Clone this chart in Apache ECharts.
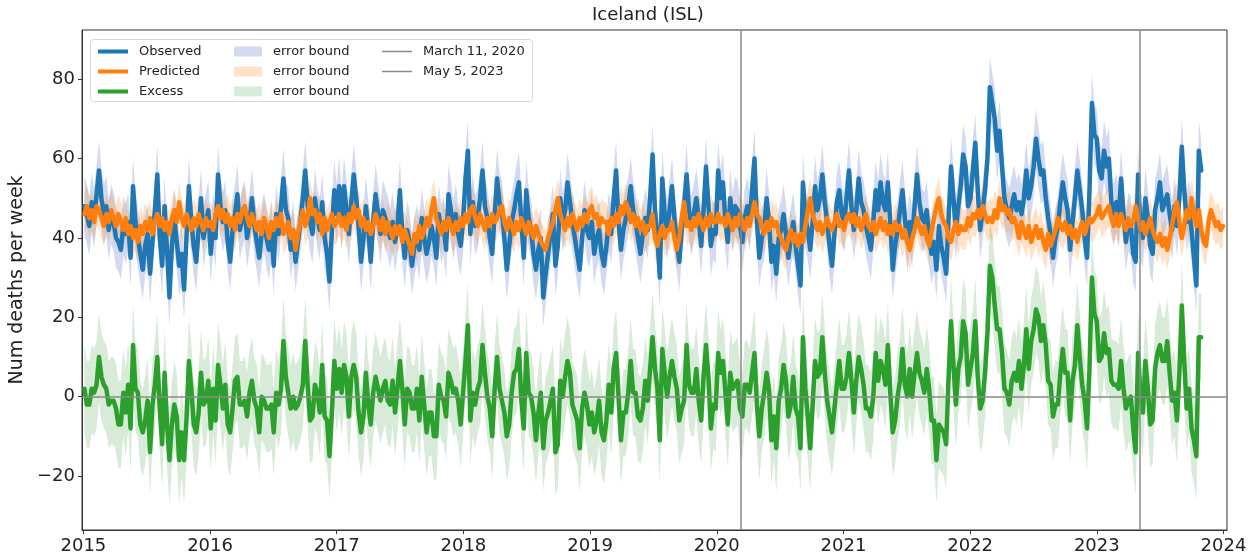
<!DOCTYPE html>
<html><head><meta charset="utf-8">
<script src="https://cdn.jsdelivr.net/npm/echarts@6/dist/echarts.min.js"></script>
<style>html,body{margin:0;padding:0;background:#fff}#c{width:1259px;height:560px}</style>
</head><body><div id="c"></div>
<script>
// ---- data (weekly, first week ending 2015-01-04) ----
const firstWeek = [2015, 0, 4];
const observed = [
48,46,43,49,45,51,57,50,46,48,42,46,44,40,39,37,43,41,44,35,53,44,40,36,32,38,41,31,39,47,56,40,33,48,37,25,38,45,39,33,36,27,40,53,44,38,34,42,50,40,44,47,
36,44,40,56,48,44,47,39,34,42,46,51,42,45,47,40,44,50,43,39,35,41,44,40,37,42,33,46,41,48,55,47,45,37,42,34,39,44,50,57,48,44,41,50,45,42,49,40,36,29,42,52,
46,53,44,53,47,41,49,56,50,43,34,40,48,42,34,44,51,46,41,47,45,43,40,44,39,43,52,41,35,42,39,33,38,41,37,45,40,36,39,43,40,35,46,41,43,37,51,47,42,46,41,38,
44,55,62,41,49,43,45,50,57,48,45,40,36,46,55,49,47,40,32,38,44,47,51,54,44,35,52,45,42,36,32,37,40,25,31,36,41,46,33,38,50,44,47,54,49,44,40,36,32,40,47,42,
40,44,36,40,42,36,33,38,44,41,50,57,44,37,42,45,48,53,47,44,40,36,41,45,42,50,61,47,40,30,55,46,42,47,53,45,39,34,42,48,56,47,43,46,50,45,38,47,58,48,38,42,
41,57,50,54,44,39,50,44,48,47,43,39,45,48,44,52,60,44,35,40,42,50,44,34,38,31,40,42,46,41,35,40,44,38,33,28,54,45,42,37,44,53,47,50,56,49,44,38,33,41,49,52,
46,44,50,57,48,42,47,55,49,47,43,40,37,44,52,47,54,49,47,54,44,32,38,42,47,52,45,39,44,40,48,56,49,45,44,47,40,36,39,32,43,38,35,31,45,58,50,42,48,53,61,58,
48,50,57,64,52,42,47,52,60,78,74,70,62,67,58,50,47,45,48,51,47,49,46,50,57,50,53,58,65,60,56,57,50,45,41,35,40,43,49,54,50,47,37,44,50,57,52,47,40,35,52,74,
66,65,57,55,62,58,60,49,46,49,45,55,46,39,44,43,36,34,56,42,40,50,45,38,36,47,50,54,47,49,51,46,42,48,43,50,63,52,44,47,42,35,28,62,57
];
const predicted = [
46,48,45,47,44,48,47,45,43,46,44,47,45,43,46,44,42,45,41,43,40,42,39,43,41,44,42,45,41,44,46,43,45,42,44,41,45,47,44,49,45,43,46,44,42,45,43,46,44,42,45,43,
44,42,46,48,45,47,44,46,43,45,42,46,44,47,48,45,43,46,44,42,44,41,45,43,40,44,42,45,43,46,41,42,44,40,42,37,41,44,47,43,45,50,46,47,44,46,41,45,42,44,46,43,
44,46,43,45,42,46,44,48,45,47,43,45,42,44,41,43,46,44,42,45,41,44,42,40,43,41,43,39,42,40,38,36,41,39,43,40,42,45,43,47,50,45,43,41,44,42,45,43,41,44,42,45,
43,46,44,47,48,45,43,46,44,42,45,43,46,44,45,47,48,44,42,45,43,41,44,42,45,43,41,44,42,40,43,41,39,38,37,40,42,44,47,50,46,44,42,45,43,46,44,42,45,43,46,44,
47,48,45,46,43,45,44,44,41,45,43,46,44,48,46,49,47,44,46,43,45,42,44,41,43,43,46,40,38,41,43,40,42,42,44,40,37,40,45,49,43,44,42,45,43,46,44,42,45,43,46,44,
44,46,44,45,43,46,44,42,45,43,46,44,42,45,43,46,49,46,45,43,41,44,42,45,43,44,41,40,38,37,40,42,39,41,38,41,39,43,47,50,46,44,42,44,41,43,45,43,42,44,46,43,
44,42,45,46,44,46,43,45,42,44,46,43,42,44,41,43,45,42,44,41,43,41,44,42,43,40,42,39,37,40,42,45,43,41,43,40,38,42,45,48,50,46,44,43,40,39,42,44,41,43,42,42,
45,43,46,45,47,45,48,46,44,45,44,47,45,50,47,48,46,47,44,45,43,40,44,42,40,43,39,41,43,40,42,39,37,41,38,40,42,45,43,42,44,41,43,40,42,39,42,44,41,43,45,44,
45,46,48,45,46,47,48,45,43,46,43,46,44,42,45,43,44,48,45,42,44,41,43,45,42,40,39,41,38,40,37,40,43,47,49,44,40,43,47,45,50,46,43,47,42,39,38,44,47,45,43,44,42,43
];
const excess = [
2,-2,-2,2,1,3,10,5,3,2,-2,-1,-1,-3,-7,-7,1,-4,3,-8,13,2,1,-7,-9,-6,-1,-14,-2,3,10,-3,-12,6,-7,-16,-7,-2,-5,-16,-9,-16,-6,9,2,-7,-9,-4,6,-2,-1,4,
-8,2,-6,8,3,-3,3,-7,-9,-3,4,5,-2,-2,-1,-5,1,4,-1,-3,-9,0,-1,-3,-3,-2,-9,1,-2,2,14,5,1,-3,0,-3,-2,0,3,14,3,-6,-5,3,1,-4,8,-5,-6,-15,-4,9,
2,7,1,8,5,-5,5,8,5,-4,-9,-5,6,-2,-7,1,5,2,-1,2,4,-1,-2,4,-4,2,9,2,-7,2,1,-3,-3,2,-6,5,-2,-9,-4,-4,-10,-10,3,0,-1,-5,6,4,1,2,-1,-7,
1,9,18,-6,1,-2,2,4,13,6,0,-3,-10,2,10,2,-1,-4,-10,-7,1,6,7,12,-1,-8,11,1,0,-4,-11,-4,1,-13,-6,-4,-1,2,-14,-12,4,0,5,9,6,-2,-4,-6,-13,-3,1,-2,
-7,-4,-9,-6,-1,-9,-11,-6,3,-4,7,11,0,-11,-4,-4,1,9,1,1,-5,-6,-3,4,-1,7,15,7,2,-11,12,6,0,5,9,5,2,-6,-3,-1,13,3,1,1,7,-1,-6,5,13,5,-8,-2,
-3,11,6,9,1,-7,6,2,3,4,-3,-5,3,3,1,6,11,-2,-10,-3,1,6,2,-11,-5,-13,-1,2,8,4,-5,-2,5,-3,-5,-13,15,2,-5,-13,-2,9,5,6,15,6,-1,-5,-9,-3,3,9,
2,2,5,11,4,-4,4,10,7,3,-3,-3,-5,0,11,4,9,7,3,13,1,-9,-6,0,4,12,3,0,7,0,6,11,6,4,1,7,2,-6,-6,-16,-7,-8,-9,-12,5,19,8,-2,7,10,19,16,
3,7,11,19,5,-3,-1,6,16,33,30,23,17,17,11,2,1,-2,4,6,4,9,2,8,17,7,14,17,22,20,14,18,13,4,3,-5,-2,-2,6,12,6,6,-6,4,8,18,10,3,-1,-8,7,30,
21,19,9,10,16,11,12,4,3,3,2,9,2,-3,-1,0,-8,-14,11,0,-4,9,2,-7,-6,7,11,13,9,9,14,6,-1,1,-6,6,23,9,-3,2,-8,-11,-15,15,15
];
// half-widths of the error bounds
const observedErr = 7.5;
const predictedErr = 5;
const excessErr = 11;
const xTickYears = [2015,2016,2017,2018,2019,2020,2021,2022,2023,2024];
const yTickValues = [-20,0,20,40,60,80];
const eventDates = [['March 11, 2020', [2020, 2, 11]], ['May 5, 2023', [2023, 4, 5]]];

// ---- helpers ----
const DAY = 86400000;
function decYear(t){ const y=new Date(t).getUTCFullYear(); const s=Date.UTC(y,0,1), e=Date.UTC(y+1,0,1); return y+(t-s)/(e-s); }
const t0 = Date.UTC(firstWeek[0], firstWeek[1], firstWeek[2]);
const weekX = n => Array.from({length:n}, (_,i)=>decYear(t0 + i*7*DAY));
const xObs = weekX(observed.length), xPred = weekX(predicted.length), xExc = weekX(excess.length);
const pairs = (xs, vs) => vs.map((v,i)=>[xs[i], v]);
const FONT = 'DejaVu Sans';
const ZW = '\u200b';

function band(name, xs, vs, err, fill){
  return {
    type:'custom', name, z:1, silent:true, animation:false,
    itemStyle:{color:fill},
    data:[[xs[0], vs[0]]],
    encode:{x:0, y:1},
    renderItem:(params, api)=>{
      const pts=[];
      for(let i=0;i<vs.length;i++) pts.push(api.coord([xs[i], vs[i]+err]));
      for(let i=vs.length-1;i>=0;i--) pts.push(api.coord([xs[i], vs[i]-err]));
      return {type:'polygon', shape:{points:pts}, style:{fill:fill}};
    }
  };
}
function line(name, xs, vs, color, z){
  return {type:'line', name, data:pairs(xs,vs), showSymbol:false, symbol:'none', z, silent:true, animation:false,
    lineStyle:{width:4.5, color, join:'round', cap:'round'}, itemStyle:{color}};
}
function vline(name, ymd){
  const c = '#8a8a8a';
  return {type:'line', name, data:[], z:6, silent:true, animation:false, itemStyle:{color:c}, lineStyle:{color:c, width:1.5},
    markLine:{silent:true, animation:false, symbol:['none','none'], label:{show:false}, emphasis:{disabled:true},
      lineStyle:{color:c, width:1.5, type:'solid'}, data:[{xAxis: decYear(Date.UTC(ymd[0], ymd[1], ymd[2]))}]}};
}

const chart = echarts.init(document.getElementById('c'), null, {renderer:'canvas', width:1259, height:560});
const legendText = {fontFamily:FONT, fontSize:13, color:'#222', padding:[0,0,0,6]};
chart.setOption({
  animation:false,
  backgroundColor:'#fff',
  grid:{left:82, top:30, width:1145, height:500, show:true, borderColor:'#333', borderWidth:1, containLabel:false, outerBoundsMode:'none'},
  xAxis:{type:'value', min:2014.989, max:2024.028, splitLine:{show:false},
    axisLine:{onZero:false, lineStyle:{color:'#333', width:1}},
    axisTick:{show:true, length:4, lineStyle:{color:'#333'}, customValues:xTickYears},
    axisLabel:{customValues:xTickYears, formatter:v=>String(Math.round(v)), fontFamily:FONT, fontSize:18, color:'#222', margin:7}},
  yAxis:{type:'value', min:-33.6, max:92.4, splitLine:{show:false},
    name:'Num deaths per week', nameLocation:'middle', nameGap:50, nameRotate:90,
    nameTextStyle:{fontFamily:FONT, fontSize:19, color:'#222'},
    axisLine:{show:true, onZero:false, lineStyle:{color:'#333', width:1}},
    axisTick:{show:true, length:4, lineStyle:{color:'#333'}, customValues:yTickValues},
    axisLabel:{customValues:yTickValues, formatter:v=>v<0?'\u2212'+(-v):String(v), fontFamily:FONT, fontSize:18, color:'#222', margin:7}},
  graphic:[
    {type:'text', left:654-62, top:6, style:{text:'Iceland (ISL)', font:'18px "DejaVu Sans"', fill:'#222'}},
    {type:'rect', z:3, shape:{x:90.5, y:39.5, width:442, height:62, r:3}, style:{fill:'rgba(255,255,255,0.85)', stroke:'#d6d6d6', lineWidth:1}}
  ],
  legend:[
    {data:['Observed','Predicted','Excess'], orient:'vertical', left:93, top:40, itemWidth:30, itemHeight:4, itemGap:7, icon:'rect',
      selectedMode:false, itemStyle:{borderWidth:0}, textStyle:legendText, z:5},
    {data:['error bound','error bound'+ZW,'error bound'+ZW+ZW], orient:'vertical', left:229, top:40, itemWidth:28, itemHeight:10, itemGap:7, icon:'rect',
      selectedMode:false, itemStyle:{borderWidth:0}, textStyle:legendText, z:5},
    {data:['March 11, 2020','May 5, 2023'], orient:'vertical', left:377, top:40, itemWidth:30, itemHeight:1.5, itemGap:7, icon:'rect',
      selectedMode:false, itemStyle:{borderWidth:0}, textStyle:legendText, z:5}
  ],
  series:[
    band('error bound', xObs, observed, observedErr, 'rgba(80,110,200,0.26)'),
    band('error bound'+ZW, xPred, predicted, predictedErr, 'rgba(255,140,40,0.26)'),
    band('error bound'+ZW+ZW, xExc, excess, excessErr, 'rgba(60,150,60,0.2)'),
    line('Observed', xObs, observed, '#1f77b4', 2),
    line('Predicted', xPred, predicted, '#ff7f0e', 2),
    line('Excess', xExc, excess, '#2ca02c', 2),
    vline(eventDates[0][0], eventDates[0][1]),
    vline(eventDates[1][0], eventDates[1][1]),
    {type:'line', name:'zero', data:[], z:6, silent:true, animation:false,
      markLine:{silent:true, animation:false, symbol:['none','none'], label:{show:false}, emphasis:{disabled:true},
        lineStyle:{color:'#8a8a8a', width:1.5, type:'solid'}, data:[{yAxis:0}]}}
  ]
});
</script>
</body></html>
